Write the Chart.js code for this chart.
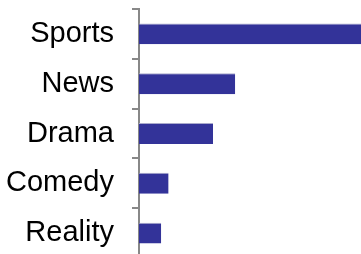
<!DOCTYPE html>
<html>
<head>
<meta charset="utf-8">
<script src="https://cdn.jsdelivr.net/npm/chart.js@4/dist/chart.umd.min.js"></script>
<style>
  html, body { margin: 0; padding: 0; background: #fff; overflow: hidden; }
  #wrap { width: 361px; height: 258px; }
</style>
</head>
<body>
<div id="wrap"><canvas id="genreChart"></canvas></div>
<script>
  const genres = ['Sports', 'News', 'Drama', 'Comedy', 'Reality'];
  const shares = [62, 26, 20, 8, 6];
  const axisMax = 60;

  const ctx = document.getElementById('genreChart').getContext('2d');
  new Chart(ctx, {
    type: 'bar',
    data: {
      labels: genres,
      datasets: [{
        data: shares,
        backgroundColor: '#333399',
        borderColor: '#aaaacc',
        borderWidth: { top: 1, right: 0, bottom: 0, left: 0 },
        borderSkipped: false,
        categoryPercentage: 1,
        barPercentage: 0.42
      }]
    },
    options: {
      indexAxis: 'y',
      responsive: true,
      maintainAspectRatio: false,
      animation: false,
      layout: { padding: { top: 9, right: 0, bottom: 0, left: 0 } },
      plugins: {
        legend: { display: false },
        tooltip: { enabled: false }
      },
      scales: {
        x: {
          display: false,
          min: 0,
          max: axisMax
        },
        y: {
          afterFit: function(scale) {
            // keep the label height from eating into the plot
            scale.width = 139;
            scale.paddingTop = 0;
            scale.paddingBottom = 0;
          },
          border: { color: '#888888', width: 2 },
          grid: {
            drawOnChartArea: false,
            color: '#888888',
            lineWidth: 2,
            tickLength: 7
          },
          ticks: {
            color: '#000',
            padding: 18,
            font: { family: 'Liberation Sans, Arial, sans-serif', size: 29 }
          }
        }
      }
    }
  });
</script>
</body>
</html>
